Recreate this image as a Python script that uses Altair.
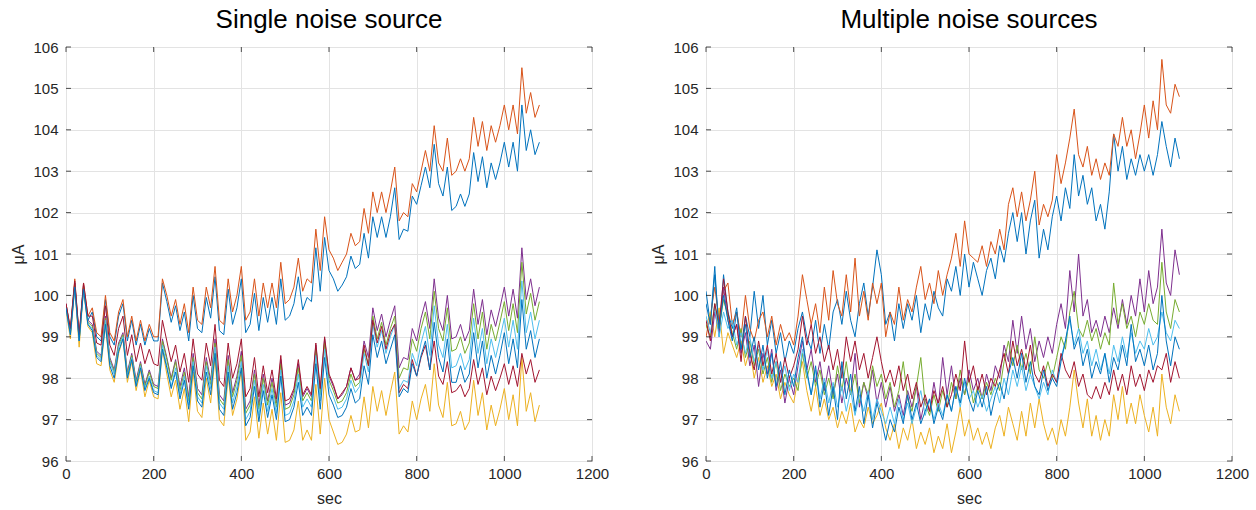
import altair as alt
import pandas as pd

T = list(range(0, 1081, 10))
X_TICKS = [0, 200, 400, 600, 800, 1000, 1200]
Y_TICKS = [96, 97, 98, 99, 100, 101, 102, 103, 104, 105, 106]

NAMES = ["s1", "s2", "s3", "s4", "s5", "s6", "s7", "s8"]
COLORS = ["#0072BD", "#D95319", "#EDB120", "#7E2F8E", "#77AC30", "#4DBEEE", "#A2142F", "#0072BD"]

# ---------------- Single noise source ----------------
L_s1 = [99.7, 99.1, 100.3, 98.9, 100.2, 99.4, 99.6, 99.0, 98.9, 99.9,
        99.0, 98.8, 99.5, 99.8, 98.9, 99.4, 98.8, 99.3, 98.8, 99.2,
        98.9, 98.9, 100.3, 99.85, 99.35, 99.75, 99.15, 99.6, 98.9, 100.0,
        99.2, 99.1, 99.95, 99.45, 100.45, 99.15, 99.05, 100.15, 99.3, 99.7,
        100.4, 99.1, 99.3, 100.05, 99.15, 99.95, 99.35, 99.95, 99.3, 100.4,
        99.4, 99.5, 99.8, 100.45, 99.65, 99.95, 99.85, 101.15, 100.1, 101.4,
        100.6, 100.4, 100.1, 100.25, 100.45, 100.95, 100.65, 100.75, 101.5, 100.9,
        101.9, 101.4, 101.9, 101.4, 101.9, 102.6, 101.35, 101.6, 101.55, 102.4,
        102.2, 102.65, 103.1, 102.6, 103.65, 102.7, 102.4, 103.1, 102.05, 102.15,
        102.45, 102.15, 102.45, 103.45, 102.75, 103.35, 102.6, 103.2, 102.8, 103.2,
        103.7, 103.1, 103.7, 103.0, 104.6, 103.5, 104.0, 103.4, 103.7]
L_s2 = [99.8, 99.2, 100.4, 99.0, 100.3, 99.5, 99.7, 99.1, 99.0, 100.0,
        99.1, 98.9, 99.6, 99.9, 99.0, 99.5, 98.9, 99.4, 98.9, 99.3,
        99.0, 99.0, 100.4, 100.0, 99.5, 99.9, 99.3, 99.8, 99.1, 100.2,
        99.4, 99.3, 100.2, 99.7, 100.7, 99.4, 99.3, 100.4, 99.6, 100.0,
        100.7, 99.4, 99.6, 100.4, 99.5, 100.3, 99.7, 100.3, 99.7, 100.8,
        99.8, 99.9, 100.2, 100.9, 100.1, 100.4, 100.3, 101.6, 100.6, 101.9,
        101.1, 100.9, 100.6, 100.8, 101.0, 101.5, 101.2, 101.3, 102.1, 101.5,
        102.5, 102.0, 102.5, 102.0, 102.5, 103.1, 101.8, 102.0, 101.9, 102.7,
        102.5, 103.0, 103.5, 103.0, 104.1, 103.2, 103.0, 103.8, 102.9, 103.0,
        103.3, 103.0, 103.3, 104.3, 103.6, 104.2, 103.5, 104.1, 103.7, 104.1,
        104.6, 104.0, 104.6, 103.9, 105.5, 104.4, 104.9, 104.3, 104.6]
L_s3 = [99.65, 98.95, 100.2, 98.75, 100.15, 99.25, 99.1, 98.35, 98.3, 99.3,
        98.2, 97.9, 98.6, 98.95, 97.9, 98.4, 97.7, 98.2, 97.55, 97.95,
        97.55, 97.5, 98.7, 98.1, 97.55, 97.95, 97.25, 97.75, 96.95, 98.15,
        97.2, 97.05, 98.0, 97.4, 98.5, 97.0, 96.85, 98.05, 97.1, 97.5,
        98.2, 96.5, 96.7, 97.55, 96.55, 97.4, 96.65, 97.25, 96.5, 97.65,
        96.45, 96.5, 96.75, 97.45, 96.5, 96.75, 96.5, 97.85, 96.65, 98.0,
        97.0, 96.7, 96.4, 96.45, 96.65, 97.1, 96.7, 96.75, 97.55, 96.8,
        97.8, 97.2, 97.7, 97.1, 97.65, 98.15, 96.65, 96.85, 96.7, 97.45,
        97.0, 97.5, 97.85, 97.2, 98.35, 97.35, 97.05, 97.9, 96.85, 96.9,
        97.2, 96.75, 96.95, 97.95, 97.1, 97.65, 96.75, 97.35, 96.85, 97.25,
        97.75, 97.0, 97.6, 96.85, 98.5, 97.2, 97.65, 96.95, 97.35]
L_s4 = [99.8, 99.15, 100.3, 99.0, 100.25, 99.4, 99.3, 98.65, 98.55, 99.5,
        98.5, 98.2, 98.85, 99.1, 98.15, 98.6, 97.95, 98.4, 97.85, 98.2,
        97.85, 97.8, 98.95, 98.5, 98.0, 98.45, 97.8, 98.25, 97.55, 98.6,
        97.75, 97.6, 98.5, 97.95, 98.95, 97.6, 97.45, 98.55, 97.65, 98.05,
        98.65, 97.25, 97.45, 98.2, 97.35, 98.1, 97.45, 98.0, 97.4, 98.45,
        97.35, 97.4, 97.7, 98.35, 97.55, 97.75, 97.55, 98.8, 97.7, 98.95,
        98.05, 97.8, 97.5, 97.6, 97.8, 98.25, 97.95, 98.1, 98.9, 98.5,
        99.7, 99.15, 99.55, 99.0, 99.4, 99.75, 98.25, 98.5, 98.45, 99.2,
        98.9, 99.45, 99.85, 99.2, 100.4, 99.45, 99.15, 100.0, 98.95, 99.0,
        99.3, 98.9, 99.15, 100.15, 99.3, 99.9, 99.05, 99.65, 99.25, 99.7,
        100.2, 99.5, 100.15, 99.45, 101.15, 99.9, 100.4, 99.75, 100.2]
L_s5 = [99.75, 99.1, 100.25, 98.95, 100.2, 99.35, 99.25, 98.6, 98.5, 99.45,
        98.45, 98.15, 98.8, 99.05, 98.1, 98.55, 97.9, 98.35, 97.8, 98.15,
        97.8, 97.75, 98.9, 98.45, 97.95, 98.4, 97.7, 98.15, 97.45, 98.5,
        97.65, 97.5, 98.4, 97.85, 98.85, 97.5, 97.35, 98.45, 97.55, 97.95,
        98.55, 97.15, 97.35, 98.1, 97.25, 98.0, 97.35, 97.9, 97.3, 98.35,
        97.25, 97.3, 97.6, 98.25, 97.45, 97.65, 97.45, 98.7, 97.6, 98.85,
        97.95, 97.7, 97.4, 97.45, 97.65, 98.1, 97.8, 97.9, 98.7, 98.3,
        99.5, 98.95, 99.35, 98.8, 99.2, 99.5, 98.0, 98.25, 98.2, 98.95,
        98.65, 99.2, 99.6, 98.95, 100.1, 99.2, 98.9, 99.7, 98.65, 98.7,
        99.0, 98.6, 98.85, 99.8, 98.95, 99.6, 98.7, 99.3, 98.9, 99.35,
        99.85, 99.15, 99.8, 99.1, 100.8, 99.55, 100.05, 99.4, 99.85]
L_s6 = [99.7, 99.05, 100.2, 98.9, 100.15, 99.3, 99.2, 98.55, 98.45, 99.4,
        98.4, 98.1, 98.75, 99.0, 98.05, 98.5, 97.85, 98.3, 97.75, 98.05,
        97.7, 97.65, 98.8, 98.3, 97.8, 98.25, 97.6, 98.05, 97.35, 98.4,
        97.55, 97.4, 98.3, 97.75, 98.75, 97.4, 97.25, 98.3, 97.4, 97.8,
        98.4, 97.0, 97.2, 97.95, 97.1, 97.85, 97.2, 97.75, 97.15, 98.2,
        97.1, 97.15, 97.45, 98.1, 97.3, 97.5, 97.3, 98.55, 97.45, 98.7,
        97.8, 97.55, 97.25, 97.3, 97.5, 97.95, 97.65, 97.8, 98.6, 98.15,
        99.3, 98.75, 99.15, 98.6, 99.0, 99.3, 97.75, 97.95, 97.9, 98.6,
        98.3, 98.85, 99.25, 98.55, 99.75, 98.8, 98.5, 99.3, 98.25, 98.3,
        98.6, 98.2, 98.45, 99.45, 98.6, 99.2, 98.35, 98.95, 98.5, 98.95,
        99.45, 98.75, 99.4, 98.7, 100.35, 99.1, 99.6, 98.95, 99.4]
L_s7 = [99.8, 99.2, 100.35, 99.05, 100.3, 99.5, 99.5, 98.85, 98.8, 99.75,
        98.8, 98.55, 99.2, 99.5, 98.55, 99.05, 98.4, 98.85, 98.35, 98.7,
        98.35, 98.3, 99.4, 98.9, 98.4, 98.8, 98.15, 98.6, 97.9, 98.95,
        98.1, 97.95, 98.85, 98.3, 99.3, 97.95, 97.8, 98.85, 98.0, 98.35,
        98.95, 97.55, 97.75, 98.5, 97.55, 98.3, 97.65, 98.2, 97.5, 98.55,
        97.45, 97.5, 97.75, 98.45, 97.6, 97.8, 97.6, 98.85, 97.75, 99.0,
        98.1, 97.85, 97.5, 97.65, 97.8, 98.25, 97.95, 98.0, 98.8, 98.3,
        99.4, 98.85, 99.25, 98.7, 99.1, 99.3, 97.65, 97.85, 97.75, 98.45,
        98.05, 98.5, 98.8, 98.2, 98.9, 98.05, 97.85, 98.4, 97.65, 97.7,
        97.85, 97.55, 97.75, 98.45, 97.85, 98.25, 97.6, 98.05, 97.7, 98.0,
        98.35, 97.85, 98.3, 97.8, 98.6, 98.1, 98.45, 97.9, 98.2]
L_s8 = [99.7, 99.05, 100.2, 98.9, 100.15, 99.3, 99.15, 98.5, 98.4, 99.3,
        98.3, 98.0, 98.65, 98.95, 98.0, 98.45, 97.8, 98.25, 97.7, 98.0,
        97.65, 97.6, 98.7, 98.25, 97.75, 98.15, 97.5, 97.95, 97.25, 98.3,
        97.45, 97.3, 98.15, 97.6, 98.6, 97.25, 97.1, 98.15, 97.25, 97.65,
        98.25, 96.85, 97.05, 97.8, 96.95, 97.7, 97.05, 97.6, 97.0, 98.05,
        96.95, 97.0, 97.3, 97.9, 97.1, 97.3, 97.1, 98.35, 97.25, 98.5,
        97.6, 97.35, 97.05, 97.1, 97.3, 97.75, 97.4, 97.5, 98.3, 97.85,
        99.05, 98.5, 98.9, 98.35, 98.7, 99.05, 97.55, 97.75, 97.65, 98.35,
        98.05, 98.55, 98.9, 98.2, 99.35, 98.5, 98.15, 98.95, 97.9, 97.9,
        98.3, 97.9, 98.1, 99.1, 98.25, 98.9, 98.0, 98.55, 98.1, 98.55,
        99.1, 98.35, 98.95, 98.25, 99.9, 98.7, 99.15, 98.5, 98.95]

# ---------------- Multiple noise sources ----------------
R_s1 = [100.1, 99.3, 100.7, 99.0, 100.5, 99.6, 99.2, 99.7, 98.7, 99.5,
        99.0, 100.1, 99.2, 100.0, 98.8, 99.4, 98.6, 99.1, 98.4, 98.9,
        98.6, 99.2, 99.6, 99.0, 98.7, 99.4, 98.6, 99.3, 98.7, 99.6,
        99.9, 99.3, 100.1, 99.4, 99.0, 99.8, 100.3, 99.5, 100.2, 101.1,
        100.5, 99.3, 99.6, 98.9, 99.8, 99.2, 99.8, 99.4, 100.0, 99.1,
        99.8, 99.4, 100.1, 99.7, 99.5, 100.4, 100.1, 100.7, 100.0, 101.0,
        100.2, 100.8, 100.4, 100.0, 100.6, 100.9, 100.4, 101.2, 100.8, 101.5,
        102.0, 101.3, 102.0, 101.0, 101.8, 102.3, 100.9, 101.6, 101.1, 101.9,
        102.4, 101.8, 102.6, 102.1, 103.4, 102.4, 102.9, 102.2, 102.6, 101.8,
        102.2, 101.6, 102.5, 103.9, 103.0, 103.6, 102.8, 103.3, 102.9, 103.4,
        103.0, 103.4, 102.9, 103.4, 104.2, 103.6, 103.1, 103.8, 103.3]
R_s2 = [99.0, 99.5, 100.2, 99.4, 100.1, 100.3, 99.3, 99.6, 99.0, 100.0,
        99.2, 98.9, 99.4, 99.6, 99.0, 99.5, 98.8, 99.3, 98.9, 99.1,
        98.8, 99.5, 100.5, 99.9, 99.3, 99.8, 99.1, 100.2, 99.4, 100.6,
        99.8, 99.5, 100.5, 99.6, 100.9, 99.5, 100.1, 99.4, 100.3, 99.8,
        100.3, 99.0, 99.6, 99.3, 100.2, 99.4, 99.9, 99.6, 100.2, 100.7,
        99.9, 100.3, 99.8, 100.6, 100.0, 100.5, 100.9, 101.5, 100.7, 101.8,
        101.0, 100.9, 100.8, 101.2, 100.7, 101.3, 101.0, 101.6, 101.1, 102.2,
        102.6, 101.9, 102.5, 101.8, 102.3, 103.0, 101.7, 102.2, 101.9, 102.3,
        103.4, 102.7, 103.2, 103.8, 104.5, 103.4, 103.1, 103.6, 102.9, 103.3,
        102.8, 103.2, 102.9, 103.9, 103.6, 104.3, 103.6, 104.0, 103.3, 103.9,
        104.6, 103.8, 104.7, 104.0, 105.7, 104.6, 104.4, 105.1, 104.8]
R_s3 = [99.2, 99.6, 99.0, 99.7, 98.6, 99.1, 98.8, 98.5, 98.9, 98.3,
        98.7, 98.0, 98.5, 97.9, 98.3, 97.8, 98.1, 97.5, 97.9, 97.6,
        97.4, 98.0, 98.4, 97.7, 97.2, 97.8, 97.1, 97.5, 97.0, 97.3,
        96.8, 97.2, 96.9, 97.4, 96.7, 97.0, 96.8, 97.3, 96.9, 97.1,
        97.4, 96.8, 96.5, 96.9, 96.3, 96.8, 96.5, 97.0, 96.3, 96.7,
        96.4, 96.8, 96.2, 96.6, 96.3, 96.9, 96.2, 96.7, 97.3, 96.6,
        97.0, 96.5, 96.8, 96.4, 96.7, 96.3, 96.8, 97.1, 96.6, 97.3,
        96.9, 96.5, 97.2, 96.6, 97.4, 96.8, 97.5, 96.9, 96.5, 96.8,
        96.4, 97.0, 96.6, 97.3, 98.2, 97.4, 96.8, 97.5, 96.6, 97.1,
        96.5, 97.0, 96.6, 97.6, 97.0, 97.8, 96.9, 97.4, 96.9, 97.6,
        97.1, 96.7, 97.3, 96.6, 98.1, 97.3, 96.9, 97.6, 97.2]
R_s4 = [98.9, 98.7, 99.6, 99.1, 100.2, 99.4, 99.0, 99.3, 98.6, 99.1,
        98.3, 98.8, 97.8, 98.6, 98.1, 98.7, 97.7, 98.2, 97.4, 98.0,
        97.6, 98.3, 98.9, 98.2, 98.7, 97.9, 98.4, 97.7, 98.3, 97.6,
        98.1, 97.4, 98.0, 97.6, 98.6, 97.3, 97.9, 97.5, 98.2, 97.4,
        97.9, 97.3, 97.8, 97.2, 97.6, 97.1, 97.7, 97.3, 97.8, 97.0,
        97.5, 97.2, 97.9, 97.3, 98.5, 97.6, 98.3, 97.5, 98.0, 97.6,
        98.2, 97.7, 98.0, 97.5, 98.1, 97.7, 98.3, 98.0, 98.8, 98.4,
        99.4, 98.6, 99.5, 98.7, 99.2, 98.4, 98.9, 98.5, 99.0, 98.6,
        99.3, 99.8, 99.2, 100.6, 99.6, 101.0, 99.5, 99.9, 99.1, 99.4,
        99.0, 99.5, 99.1, 99.7, 99.2, 99.9, 99.3, 100.0, 99.5, 100.4,
        99.6, 100.6, 99.8, 100.2, 101.6, 100.3, 100.0, 101.1, 100.5]
R_s5 = [99.3, 99.0, 99.8, 99.2, 99.9, 99.5, 99.1, 98.7, 99.2, 98.5,
        98.9, 98.3, 98.7, 98.1, 98.5, 97.9, 98.4, 97.7, 98.1, 97.8,
        98.0, 97.7, 98.6, 98.0, 98.4, 97.8, 98.2, 97.6, 98.0, 97.5,
        98.3, 97.7, 98.4, 97.6, 98.1, 97.4, 97.9, 97.6, 98.3, 97.8,
        98.1, 97.5, 97.9, 97.3, 97.7, 98.4, 97.5, 97.2, 97.8, 98.5,
        97.4, 97.1, 97.6, 97.2, 97.7, 97.3, 97.9, 97.5, 98.2, 97.6,
        98.0, 97.4, 97.8, 97.5, 97.9, 97.6, 98.0, 97.7, 98.4, 98.9,
        98.3, 98.8, 98.2, 98.6, 98.1, 99.0, 98.2, 98.0, 98.4, 98.0,
        98.5, 99.0, 98.7, 99.6, 100.1, 99.2, 99.0, 99.4, 98.9, 99.2,
        98.7, 99.1, 98.8, 100.3, 99.3, 99.8, 99.2, 99.5, 99.0, 99.6,
        99.3, 99.8, 99.4, 99.3, 100.8, 99.6, 99.2, 99.9, 99.6]
R_s6 = [99.5, 99.1, 99.7, 99.0, 99.6, 99.2, 99.4, 98.8, 99.1, 98.6,
        99.0, 98.4, 98.8, 98.2, 98.7, 98.0, 98.4, 97.9, 98.3, 97.7,
        98.1, 97.9, 98.7, 98.1, 97.6, 98.2, 97.5, 98.0, 97.4, 97.9,
        97.3, 97.8, 97.2, 97.7, 97.1, 97.6, 97.2, 97.7, 97.0, 97.5,
        97.2, 96.9, 97.3, 96.9, 97.5, 97.0, 97.4, 96.9, 97.3, 97.7,
        97.1, 97.5, 97.0, 97.4, 97.1, 97.6, 97.2, 97.8, 97.3, 97.9,
        97.5, 97.7, 97.3, 97.6, 97.2, 97.5, 97.8, 97.4, 98.0, 97.6,
        98.2, 97.8, 98.3, 97.7, 98.1, 97.8, 97.5, 97.9, 97.6, 98.2,
        97.9, 98.5, 98.9, 99.4, 98.8, 99.2, 98.6, 98.9, 98.3, 98.7,
        98.2, 98.6, 98.1, 98.8, 98.4, 99.0, 98.5, 99.1, 98.6, 98.9,
        98.7, 99.2, 98.8, 99.0, 99.6, 99.1, 98.9, 99.4, 99.2]
R_s7 = [99.4, 98.9, 99.8, 99.3, 100.4, 99.6, 99.0, 99.3, 98.4, 99.5,
        98.6, 98.2, 98.9, 98.3, 98.8, 98.1, 98.6, 97.9, 98.5, 98.0,
        98.3, 98.7, 99.5, 98.8, 99.3, 98.6, 99.0, 98.4, 98.8, 98.2,
        98.7, 98.0, 99.0, 98.4, 98.9, 98.2, 98.6, 98.0, 98.5, 99.0,
        98.4, 97.9, 98.2, 97.8, 98.3, 97.7, 98.1, 97.5, 97.9, 97.3,
        97.6, 97.2, 97.7, 97.4, 97.8, 97.3, 97.6, 98.1, 97.7, 98.9,
        97.9, 98.3, 97.7, 98.1, 97.6, 98.0, 97.8, 98.2, 98.6, 98.1,
        98.9, 98.3, 98.7, 98.2, 98.8, 98.1, 97.9, 98.3, 97.8, 98.1,
        97.9, 98.6, 98.2, 98.0, 98.4, 97.8, 98.1, 97.6, 97.5, 97.8,
        97.5, 97.9, 97.6, 98.2, 97.7, 98.1, 97.6, 98.3, 97.8, 98.1,
        97.7, 98.2, 97.9, 98.3, 98.2, 98.6, 97.9, 98.4, 98.0]
R_s8 = [99.8, 99.3, 100.5, 99.2, 100.0, 99.4, 98.9, 99.6, 98.7, 99.3,
        98.5, 99.0, 98.2, 98.8, 98.0, 98.6, 97.8, 98.4, 97.6, 98.2,
        97.8, 98.5, 99.0, 98.2, 97.6, 98.3, 97.3, 97.9, 97.1, 97.8,
        97.0, 98.4, 97.5, 98.1, 97.2, 97.8, 96.9, 97.6, 96.8, 97.4,
        97.0, 96.5, 97.0, 96.7, 97.3, 96.9, 97.6, 97.0, 97.4, 96.9,
        97.2, 97.5, 96.9, 97.3, 97.0, 97.6, 97.2, 97.8, 97.4, 98.0,
        97.5, 97.2, 97.7, 97.3, 97.8, 97.1, 97.6, 97.9, 97.5, 98.1,
        98.5, 98.0, 98.6, 97.9, 98.4, 97.8, 97.6, 98.2, 97.7, 98.0,
        97.8, 98.4, 98.9, 99.5, 98.7, 99.0, 98.3, 98.7, 98.0, 98.4,
        98.1, 98.6, 97.9, 98.5, 98.2, 98.8, 98.3, 99.3, 98.4, 98.7,
        98.3, 98.8, 98.2, 98.6, 100.0, 98.9, 98.3, 99.0, 98.7]

LEFT = [L_s1, L_s2, L_s3, L_s4, L_s5, L_s6, L_s7, L_s8]
RIGHT = [R_s1, R_s2, R_s3, R_s4, R_s5, R_s6, R_s7, R_s8]

FONT = "Liberation Sans"
INK = "#262626"
W, H = 526, 414


def long_df(series_list):
    rows = []
    for name, vals in zip(NAMES, series_list):
        for t, v in zip(T, vals):
            rows.append({"t": t, "v": v, "s": name})
    return pd.DataFrame(rows)


ytick_df = pd.DataFrame({"v": Y_TICKS})
xtick_df = pd.DataFrame({"t": X_TICKS})

XS = alt.Scale(domain=[0, 1200], nice=False, zero=False)
YS = alt.Scale(domain=[96, 106], nice=False, zero=False)
X_AXIS = alt.Axis(values=X_TICKS, title="sec", format="d", labelFlush=False,
                  labelPadding=5, titlePadding=9)
Y_AXIS = alt.Axis(values=Y_TICKS, title="μA", format="d", labelPadding=8, titlePadding=6)


def panel(series_list, title):
    xenc = alt.X("t:Q", scale=XS, axis=X_AXIS, title="sec")
    yenc = alt.Y("v:Q", scale=YS, axis=Y_AXIS, title="μA")
    lines = alt.Chart(long_df(series_list)).mark_line(strokeWidth=1, clip=True).encode(
        x=xenc, y=yenc,
        color=alt.Color("s:N", scale=alt.Scale(domain=NAMES, range=COLORS), legend=None),
    )
    tk = dict(color=INK, strokeWidth=1, opacity=0.8)
    yl = alt.Chart(ytick_df).mark_rule(**tk).encode(y=yenc, x=alt.value(0), x2=alt.value(5))
    yr = alt.Chart(ytick_df).mark_rule(**tk).encode(y=yenc, x=alt.value(W - 5), x2=alt.value(W))
    xb = alt.Chart(xtick_df).mark_rule(**tk).encode(x=xenc, y=alt.value(H - 5), y2=alt.value(H))
    xt = alt.Chart(xtick_df).mark_rule(**tk).encode(x=xenc, y=alt.value(0), y2=alt.value(5))
    return alt.layer(lines, yl, yr, xb, xt).properties(
        width=W, height=H,
        title=alt.TitleParams(title, fontSize=26, font=FONT, fontWeight="normal",
                              color="black", anchor="middle", offset=7),
    )


chart = alt.hconcat(
    panel(LEFT, "Single noise source"),
    panel(RIGHT, "Multiple noise sources"),
    spacing=114, bounds="flush",
).properties(
    padding={"left": 10, "top": 6, "right": 5, "bottom": 5},
    background="white",
).configure_view(
    stroke="#6f6f6f", strokeWidth=1,
).configure_axis(
    grid=True, gridColor="#e3e3e3", gridWidth=1, domain=False, ticks=False,
    labelFont=FONT, labelFontSize=15, labelColor=INK,
    titleFont=FONT, titleFontSize=16, titleColor=INK, titleFontWeight="normal",
)

chart.save("out.html", embed_options={"renderer": "svg", "actions": False})
